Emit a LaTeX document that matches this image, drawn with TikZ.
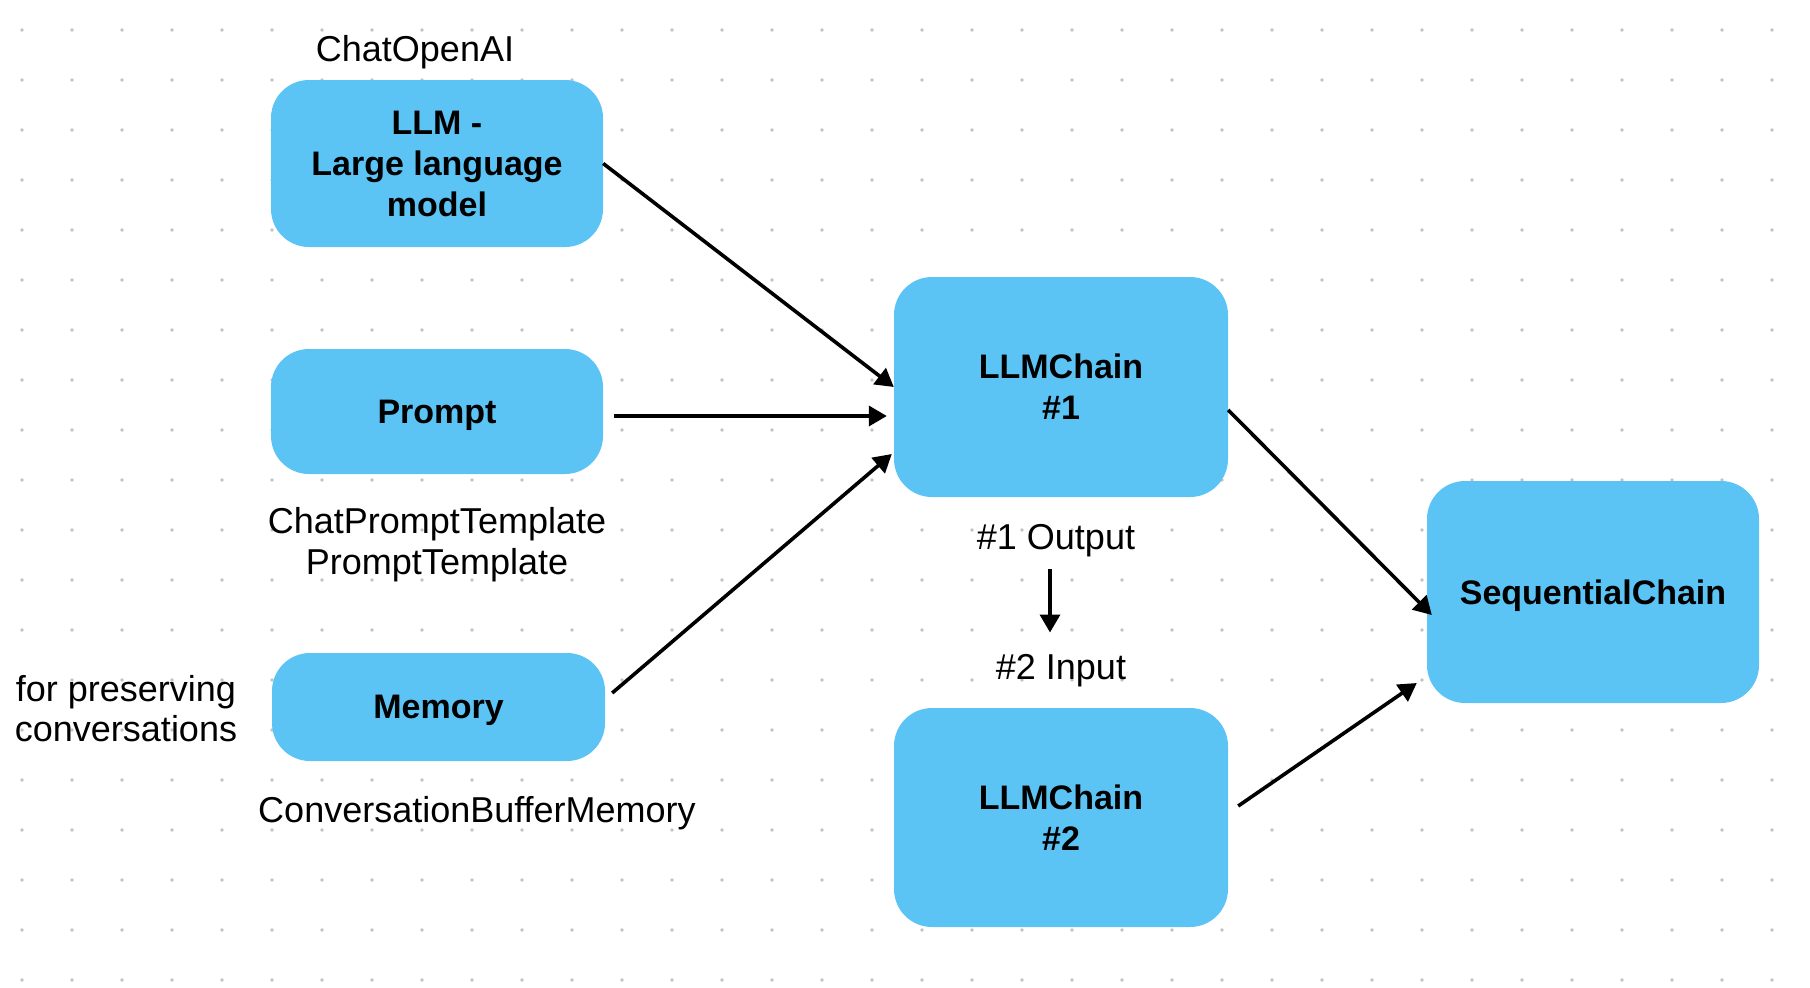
\documentclass[tikz,border=0pt]{standalone}
\usepackage{fontspec}
\setmainfont{Liberation Sans}
\usetikzlibrary{arrows.meta}
\definecolor{boxblue}{HTML}{5BC4F5}
\definecolor{dotgray}{HTML}{C2C2C2}
\begin{document}
\begin{tikzpicture}[x=1pt,y=-1pt,
  box/.style={draw=none, fill=boxblue, rounded corners=38pt, inner sep=0pt, align=center, font=\fontsize{34}{41}\bfseries\selectfont},
  onebox/.style={box, text depth=0pt},
  lbl/.style={inner sep=0pt, align=center, font=\fontsize{36}{41}\selectfont},
  arr/.style={line width=3.6pt, -{Triangle[length=18pt,width=20pt]}},
]
\useasboundingbox (0,0) rectangle (1810,988);
\fill[white] (0,0) rectangle (1810,988);
\foreach \i in {0,...,35}{\foreach \j in {0,...,19}{\fill[dotgray] ({22+50*\i},{30+50*\j}) circle (1.9pt);}}

\node[box, minimum width=332pt, minimum height=167pt] (llm) at (437,163.5) {LLM -\\Large language\\model};
\node[onebox, minimum width=332pt, minimum height=125pt] (prompt) at (437,411.5) {Prompt};
\node[onebox, minimum width=333pt, minimum height=108pt] (memory) at (438.5,707) {Memory};
\node[box, minimum width=334pt, minimum height=220pt] (chain1) at (1061,387) {LLMChain\\\#1};
\node[box, minimum width=334pt, minimum height=219pt] (chain2) at (1061,817.5) {LLMChain\\\#2};
\node[onebox, minimum width=332pt, minimum height=222pt] (seq) at (1593,592) {SequentialChain};

\node[lbl] (chatopenai) at (415,52) {ChatOpenAI};
\node[lbl] (tmpl) at (437,545) {ChatPromptTemplate\\PromptTemplate};
\node[lbl, font=\fontsize{36}{40}\selectfont] (forpres) at (126,709) {for preserving\\conversations};
\node[lbl] (cbm) at (477,813) {ConversationBufferMemory};
\node[lbl] (out1) at (1056,541) {\#1 Output};
\node[lbl] (in2) at (1061,671) {\#2 Input};

\draw[arr] (llm.east) -- (chain1.west);
\coordinate (pr) at ([yshift=-4.5pt]prompt.east);
\draw[arr, shorten <=11pt, shorten >=7pt] (pr) -- (pr -| chain1.west);
\draw[arr] ([shift={(7,-14)}]memory.east) -- ([shift={(-2,67)}]chain1.west);
\draw[arr] ([shift={(0,23)}]chain1.east) -- ([shift={(5,23)}]seq.west);
\draw[arr] ([shift={(10,-11.5)}]chain2.east) -- ([shift={(-10,91)}]seq.west);
\draw[arr] ([shift={(-6,11.4)}]out1.south) -- ([shift={(-11,-22)}]in2.north);
\end{tikzpicture}
\end{document}
